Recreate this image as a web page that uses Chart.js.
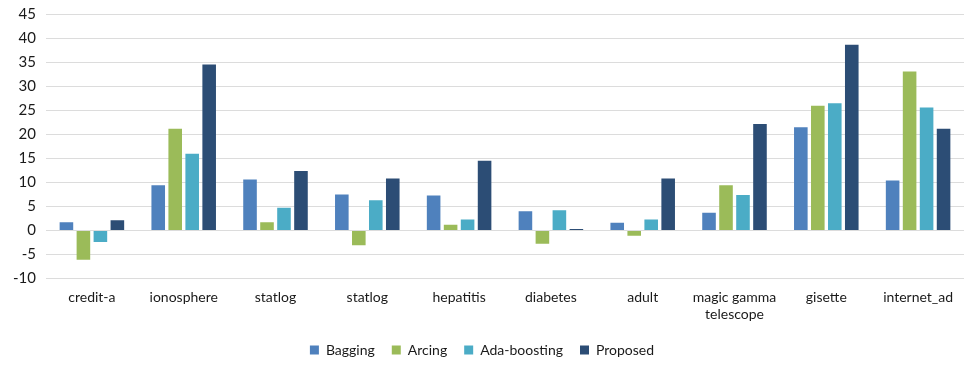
<!DOCTYPE html>
<html>
<head>
<meta charset="utf-8">
<script src="https://cdn.jsdelivr.net/npm/chart.js@4/dist/chart.umd.min.js"></script>
<style>
  html, body { margin: 0; padding: 0; background: #ffffff; }
  #wrap { width: 965px; height: 367px; position: relative; }
</style>
</head>
<body>
<div id="wrap"><canvas id="c" width="965" height="367"></canvas></div>
<script>
// Datasets and their improvement values (%)
const categories = ["credit-a", "ionosphere", "statlog", "statlog", "hepatitis", "diabetes", "adult", ["magic gamma", "telescope"], "gisette", "internet_ad"];
const bagging     = [1.7, 9.4, 10.6, 7.5, 7.3, 4.0, 1.6, 3.7, 21.5, 10.4];
const arcing      = [-6.1, 21.2, 1.7, -3.1, 1.2, -2.8, -1.1, 9.4, 26.0, 33.1];
const adaBoosting = [-2.4, 16.0, 4.7, 6.3, 2.3, 4.2, 2.3, 7.4, 26.5, 25.6];
const proposed    = [2.1, 34.6, 12.4, 10.8, 14.5, 0.3, 10.8, 22.2, 38.7, 21.2];
const yTicks = { min: -10, max: 45, step: 5 };

const font = "Lato, 'Open Sans', sans-serif";

new Chart(document.getElementById("c"), {
  type: "bar",
  data: {
    labels: categories,
    datasets: [
      { label: "Bagging",      data: bagging,     backgroundColor: "#4f81bd" },
      { label: "Arcing",       data: arcing,      backgroundColor: "#9bbb59" },
      { label: "Ada-boosting", data: adaBoosting, backgroundColor: "#4bacc6" },
      { label: "Proposed",     data: proposed,    backgroundColor: "#2c4d75" }
    ]
  },
  options: {
    responsive: false,
    animation: false,
    layout: { padding: { top: 0, right: 1, bottom: 0, left: 0 } },
    datasets: {
      bar: { categoryPercentage: 0.74, barPercentage: 0.8, borderWidth: 0 }
    },
    scales: {
      x: {
        grid: { display: false },
        border: { display: false },
        ticks: { color: "#1a1a1a", font: { family: font, size: 14 }, maxRotation: 0, autoSkip: false, padding: 3 }
      },
      y: {
        min: yTicks.min, max: yTicks.max,
        grid: { color: "#dcdcdc", lineWidth: 1, drawTicks: false },
        border: { display: false },
        ticks: { stepSize: yTicks.step, color: "#1a1a1a", font: { family: font, size: 15, lineHeight: 0.6 }, padding: 10 },
        afterFit: (s) => { s.width = 46; }
      }
    },
    plugins: {
      legend: {
        position: "bottom",
        labels: { boxWidth: 9, boxHeight: 9, padding: 17, color: "#1a1a1a", font: { family: font, size: 14 } }
      },
      tooltip: { enabled: false }
    }
  }
});
</script>
</body>
</html>
